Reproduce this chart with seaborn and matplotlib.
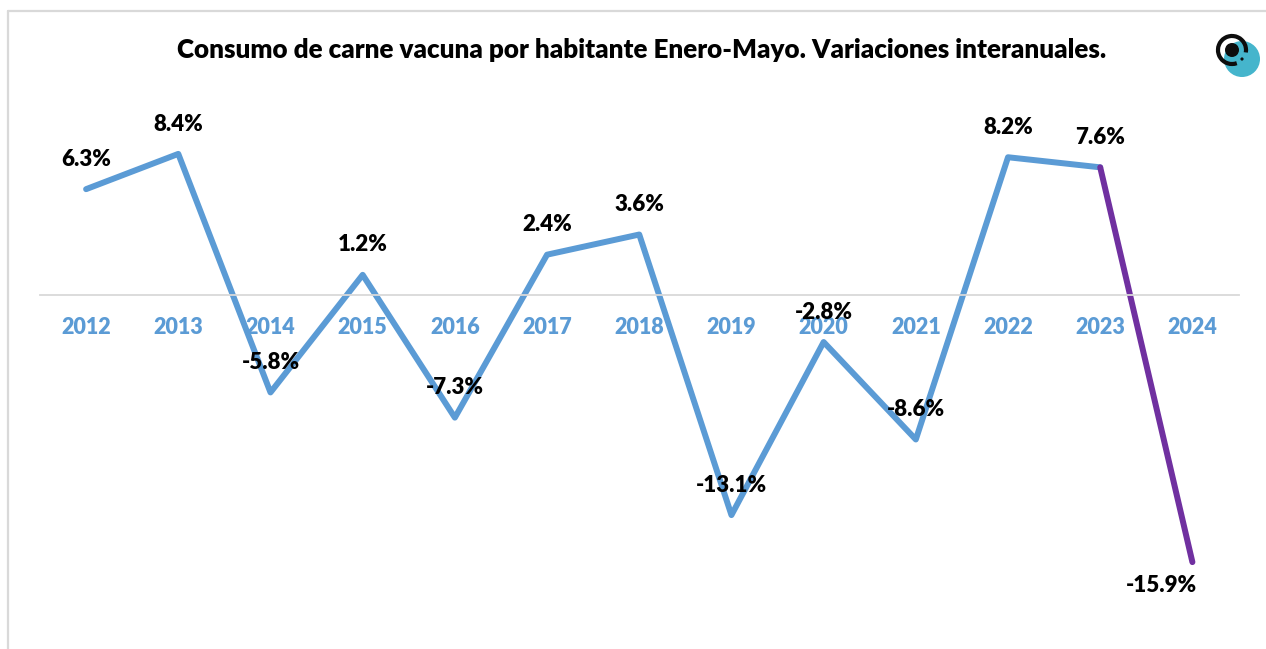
import pandas as pd
import seaborn as sns
import matplotlib.pyplot as plt
from matplotlib.lines import Line2D
from matplotlib.patches import Arc, Circle

years = [2012, 2013, 2014, 2015, 2016, 2017, 2018, 2019, 2020, 2021, 2022, 2023, 2024]
values = [6.3, 8.4, -5.8, 1.2, -7.3, 2.4, 3.6, -13.1, -2.8, -8.6, 8.2, 7.6, -15.9]
title = "Consumo de carne vacuna por habitante Enero-Mayo. Variaciones interanuales."

BLUE = "#5B9BD5"
PURPLE = "#7030A0"
W, H = 1266, 649


def fx(px):
    return px / W


def fy(px):
    return 1 - px / H


df = pd.DataFrame({"year": years, "value": values})

sns.set_theme(style="white")
plt.rcParams["font.family"] = ["Lato", "DejaVu Sans"]

fig = plt.figure(figsize=(W / 100, H / 100), dpi=100)
ax = fig.add_axes([fx(40), fy(640), (1238.5 - 40) / W, (640 - 80) / H])
ax.patch.set_alpha(0)

sns.lineplot(data=df.iloc[:12], x="year", y="value", color=BLUE, linewidth=4.3, ax=ax,
             solid_capstyle="round", solid_joinstyle="round")
sns.lineplot(data=df.iloc[11:], x="year", y="value", color=PURPLE, linewidth=4.3, ax=ax,
             solid_capstyle="round", solid_joinstyle="round")

ax.set_xlim(2011.5, 2024.5)
ax.set_ylim((295 - 640) / 16.8, (295 - 80) / 16.8)
ax.set_xlabel("")
ax.set_ylabel("")

sns.despine(ax=ax, left=True, top=True, right=True)
# moving the spine resets the ticks, so ticks are styled after this
ax.spines["bottom"].set_position(("data", 0))
ax.spines["bottom"].set_color("#D9D9D9")
ax.spines["bottom"].set_linewidth(1.3)

ax.set_yticks([])
ax.set_xticks(years)
ax.set_xticklabels(years, color=BLUE, fontweight="heavy", fontsize=15.5)
ax.tick_params(axis="x", length=0, pad=16)

# data labels, last one sits below and to the left of its point
for yr, v in zip(years, values):
    offset = (-22, -17) if yr == 2024 else (0, 21.5)
    ax.annotate(f"{v:.1f}%", (yr, v), xytext=offset, textcoords="offset points",
                ha="center", va="center", fontsize=16, fontweight="heavy", color="black")

fig.text(fx(642), fy(50), title, ha="center", va="center", fontsize=18.7, fontweight="heavy", color="black")

# outer frame, only top and left are visible
fig.add_artist(Line2D([fx(8), 1], [fy(10.5), fy(10.5)], color="#D9D9D9", lw=1.6))
fig.add_artist(Line2D([fx(8), fx(8)], [fy(10.5), 0], color="#D9D9D9", lw=1.6))

# logo
logo = fig.add_axes([fx(1200), fy(90), 66 / W, 90 / H])
logo.set_xlim(1200, 1266)
logo.set_ylim(90, 0)
logo.axis("off")
logo.add_patch(Circle((1242, 59), 18, color="#45B5CC", lw=0))
logo.add_patch(Arc((1232, 50), 28, 28, theta1=70, theta2=370, color="#0D0D0D", lw=3))
logo.add_patch(Circle((1232, 50), 7, color="#0D0D0D", lw=0))
logo.add_patch(Circle((1242, 59), 1.6, color="#0D0D0D", lw=0))

fig.savefig("out.png", dpi=100)
